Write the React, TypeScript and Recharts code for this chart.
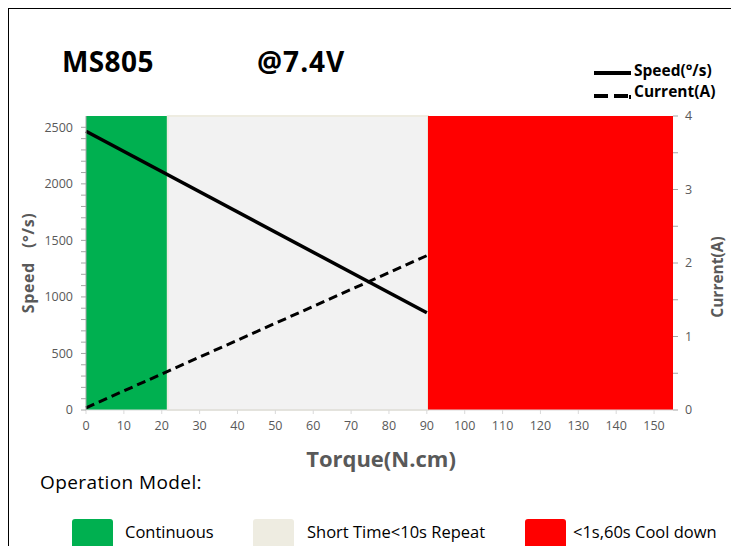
import React from "react";
import {
  ComposedChart,
  Line,
  XAxis,
  YAxis,
  ReferenceArea,
} from "recharts";

// chart values
const torque = [0, 90];
const speed = [2465, 860];
const current = [0.03, 2.1];

const xTicks = [0, 10, 20, 30, 40, 50, 60, 70, 80, 90, 100, 110, 120, 130, 140, 150];
const speedTicks = Array.from({ length: 26 }, (_, i) => i * 100);
const currentTicks = [0, 0.5, 1, 1.5, 2, 2.5, 3, 3.5, 4];

const zones = [
  { name: "Continuous", from: 0, to: 21.6, color: "#00b050" },
  { name: "Short Time<10s Repeat", from: 21.6, to: 90.3, color: "#f2f2f2" },
  { name: "<1s,60s Cool down", from: 90.3, to: 155, color: "#ff0000" },
];
const zoneSwatch = ["#00b050", "#eeece1", "#ff0000"];

const data = torque.map((t, i) => ({ torque: t, speed: speed[i], current: current[i] }));

const FONT = "'Open Sans', sans-serif";
const GRAY = "#595959";

export default function App() {
  return (
    <div
      style={{
        position: "relative",
        margin: -8,
        width: 739,
        height: 554,
        overflow: "hidden",
        background: "#fff",
        fontFamily: FONT,
      }}
    >
      <div
        style={{
          position: "absolute",
          left: 7,
          top: 7,
          width: 726,
          height: 600,
          border: "2px solid #000",
          boxSizing: "border-box",
        }}
      />
      <div style={{ position: "absolute", left: 62, top: 42, fontSize: 28, fontWeight: 700, color: "#000", letterSpacing: 0.4 }}>
        MS805
      </div>
      <div style={{ position: "absolute", left: 257, top: 42, fontSize: 28, fontWeight: 700, color: "#000", letterSpacing: 1 }}>
        @7.4V
      </div>

      {/* top legend */}
      <div style={{ position: "absolute", left: 594, top: 71, width: 37, height: 4, background: "#000" }} />
      <div style={{ position: "absolute", left: 634, top: 59, fontSize: 15.5, fontWeight: 700, color: "#000" }}>
        Speed(°/s)
      </div>
      <div style={{ position: "absolute", left: 594, top: 94, width: 14, height: 4, background: "#000" }} />
      <div style={{ position: "absolute", left: 614, top: 94, width: 14, height: 4, background: "#000" }} />
      <div style={{ position: "absolute", left: 629, top: 95, width: 2, height: 4, background: "#000" }} />
      <div style={{ position: "absolute", left: 634, top: 80, fontSize: 15.5, fontWeight: 700, color: "#000" }}>
        Current(A)
      </div>

      <div style={{ position: "absolute", left: 0, top: 0 }}>
        <ComposedChart
          width={739}
          height={554}
          data={data}
          margin={{ top: 116, right: 26, bottom: 114, left: 46 }}
        >
          {zones.map((z) => (
            <ReferenceArea
              key={z.name}
              yAxisId="speed"
              x1={z.from}
              x2={z.to}
              y1={0}
              y2={2600}
              fill={z.color}
              fillOpacity={1}
              stroke={z.color === "#f2f2f2" ? "#eeece1" : "none"}
              strokeWidth={2}
            />
          ))}
          <XAxis
            dataKey="torque"
            type="number"
            domain={[0, 155]}
            ticks={xTicks}
            height={30}
            interval={0}
            tickSize={4}
            tickMargin={7}
            axisLine={{ stroke: "#d9d9d9" }}
            tickLine={{ stroke: "#d9d9d9" }}
            tick={{ fill: GRAY, fontSize: 12.5, fontFamily: FONT }}
          />
          <YAxis
            yAxisId="speed"
            width={40}
            domain={[0, 2600]}
            ticks={speedTicks}
            interval={0}
            tickSize={5}
            tickMargin={8}
            tickFormatter={(v: number) => (v % 500 === 0 ? String(v) : "")}
            axisLine={{ stroke: "#a6a6a6" }}
            tickLine={{ stroke: "#a6a6a6" }}
            tick={{ fill: GRAY, fontSize: 12.5, fontFamily: FONT }}
          />
          <YAxis
            yAxisId="current"
            orientation="right"
            width={40}
            domain={[0, 4]}
            ticks={currentTicks}
            interval={0}
            tickSize={5}
            tickMargin={7}
            tickFormatter={(v: number) => (Number.isInteger(v) ? String(v) : "")}
            axisLine={false}
            tickLine={{ stroke: "#a6a6a6" }}
            tick={{ fill: GRAY, fontSize: 12.5, fontFamily: FONT }}
          />
          <Line
            yAxisId="speed"
            dataKey="speed"
            stroke="#000"
            strokeWidth={3.5}
            dot={false}
            isAnimationActive={false}
          />
          <Line
            yAxisId="current"
            dataKey="current"
            stroke="#000"
            strokeWidth={3}
            strokeDasharray="9 5"
            dot={false}
            isAnimationActive={false}
          />
        </ComposedChart>
      </div>

      {/* axis titles */}
      <div
        style={{
          position: "absolute",
          left: 28,
          top: 263,
          transform: "translate(-50%, -50%) rotate(-90deg)",
          whiteSpace: "pre",
          fontSize: 16,
          fontWeight: 700,
          letterSpacing: 0.6,
          color: GRAY,
        }}
      >
        {"Speed   (°/s)"}
      </div>
      <div
        style={{
          position: "absolute",
          left: 717,
          top: 277,
          transform: "translate(-50%, -50%) rotate(-90deg)",
          whiteSpace: "pre",
          fontSize: 15.5,
          fontWeight: 700,
          color: GRAY,
        }}
      >
        Current(A)
      </div>
      <div
        style={{
          position: "absolute",
          left: 381,
          top: 458,
          transform: "translate(-50%, -50%)",
          fontSize: 22,
          fontWeight: 700,
          color: GRAY,
          whiteSpace: "nowrap",
        }}
      >
        Torque(N.cm)
      </div>

      <div style={{ position: "absolute", left: 40, top: 469, fontSize: 19, letterSpacing: 0.4, color: "#000", whiteSpace: "nowrap" }}>
        Operation Model:
      </div>

      {/* zone legend */}
      {zones.map((z, i) => {
        const boxX = [72, 253, 525][i];
        const textX = [125, 307, 573][i];
        return (
          <React.Fragment key={z.name}>
            <div
              style={{
                position: "absolute",
                left: boxX,
                top: 519,
                width: 41,
                height: 29,
                borderRadius: 3,
                background: zoneSwatch[i],
              }}
            />
            <div style={{ position: "absolute", left: textX, top: 520, fontSize: 16.5, color: "#000", whiteSpace: "nowrap" }}>
              {z.name}
            </div>
          </React.Fragment>
        );
      })}
    </div>
  );
}
